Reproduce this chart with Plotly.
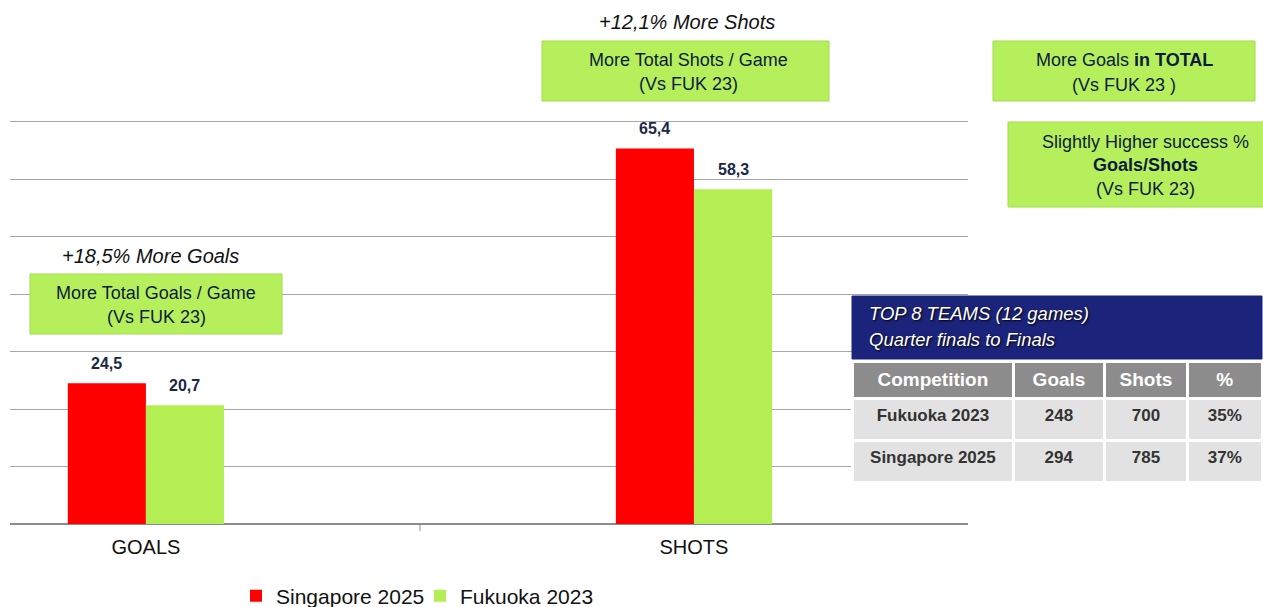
import plotly.graph_objects as go

# ---------------- data ----------------
categories = ["GOALS", "SHOTS"]
series_names = ["Singapore 2025", "Fukuoka 2023"]
singapore_2025 = [24.5, 65.4]
fukuoka_2023 = [20.7, 58.3]
value_labels_sg = ["24,5", "65,4"]
value_labels_fk = ["20,7", "58,3"]
y_gridvals = [0, 10, 20, 30, 40, 50, 60, 70]

table_title = ["TOP 8 TEAMS (12 games)", "Quarter finals to Finals"]
table_columns = ["Competition", "Goals", "Shots", "%"]
table_competition = ["Fukuoka 2023", "Singapore 2025"]
table_goals = [248, 294]
table_shots = [700, 785]
table_pct = ["35%", "37%"]

# ---------------- layout helpers ----------------
W, H = 1263, 607
ML, MB = 10, 83          # margins (px)
PW = W - ML              # paper width px
PH = H - MB              # paper height px


def px(x):
    return (x - ML) / PW


def py(y):
    return (PH - y) / PH


RED = "#FF0000"
GREEN = "#B3EE52"
BOX_FILL = "#B5F05C"
BOX_LINE = "#A2DC4C"
NAVY_TXT = "#0E1B3C"
FONT = "Arial, Liberation Sans, sans-serif"

fig = go.Figure()
xs = list(range(len(categories)))
fig.add_trace(go.Bar(x=xs, y=singapore_2025, name=series_names[0],
                     marker=dict(color=RED, line=dict(width=0))))
fig.add_trace(go.Bar(x=xs, y=fukuoka_2023, name=series_names[1],
                     marker=dict(color=GREEN, line=dict(width=0))))

BARGAP = 0.715
half = (1 - BARGAP) / 4  # center offset of each bar in group

annotations = []
for i in xs:
    annotations.append(dict(x=i - half, y=singapore_2025[i], xref="x", yref="y",
                            text="<b>%s</b>" % value_labels_sg[i], showarrow=False,
                            yanchor="bottom", yshift=9,
                            font=dict(size=16, color="#1C2746", family=FONT)))
    annotations.append(dict(x=i + half, y=fukuoka_2023[i], xref="x", yref="y",
                            text="<b>%s</b>" % value_labels_fk[i], showarrow=False,
                            yanchor="bottom", yshift=9,
                            font=dict(size=16, color="#1C2746", family=FONT)))

shapes = []


def box(x0, y0, x1, y1, fill=BOX_FILL, line=BOX_LINE):
    shapes.append(dict(type="rect", xref="paper", yref="paper",
                       x0=px(x0), x1=px(x1), y0=py(y1), y1=py(y0),
                       fillcolor=fill, line=dict(color=line, width=1), layer="above"))


def text(x, y, s, size=18, color=NAVY_TXT, style="normal", xanchor="center", shadow=None):
    f = dict(size=size, color=color, family=FONT, style=style)
    if shadow:
        f["shadow"] = shadow
    annotations.append(dict(x=px(x), y=py(y), xref="paper", yref="paper", text=s,
                            showarrow=False, xanchor=xanchor, yanchor="middle", font=f))


# green call-out boxes
box(30, 274, 282, 334)
text(156, 293, "More Total Goals / Game")
text(156, 317, "(Vs FUK 23)")
text(150, 256, "+18,5% More Goals", size=20, color="#111111", style="italic")

box(542, 41, 829, 101)
text(688, 60, "More Total Shots / Game")
text(688, 84, "(Vs FUK 23)")
text(687, 22, "+12,1% More Shots", size=20, color="#111111", style="italic")

box(993, 41, 1255, 101)
text(1124, 60, "More Goals <b>in TOTAL</b>")
text(1124, 85, "(Vs FUK 23 )")

box(1008, 122, 1275, 207)
text(1145, 142, "Slightly Higher success %")
text(1145, 165, "<b>Goals/Shots</b>")
text(1145, 189, "(Vs FUK 23)")

# table title block
box(852, 296, 1262, 359, fill="#1B237A", line="#1B237A")
text(867, 313, table_title[0], size=18.5, color="white", style="italic", xanchor="left",
     shadow="1px 1px 2px #000")
text(867, 339, table_title[1], size=18.5, color="white", style="italic", xanchor="left",
     shadow="1px 1px 2px #000")

# small tick between categories on the baseline
shapes.append(dict(type="line", xref="x", yref="paper", x0=0.5, x1=0.5,
                   y0=0, y1=-7 / PH, line=dict(color="#8C8C8C", width=1)))


def bold(col):
    return ["<b>%s</b>" % v for v in col]


fig.add_trace(go.Table(
    domain=dict(x=[px(852), px(1262)], y=[py(484), py(361)]),
    columnwidth=[161, 90, 83, 74],
    header=dict(values=bold(table_columns),
                fill_color="#8C8C8C", line=dict(color="white", width=3),
                align="center", height=33,
                font=dict(color="white", size=19, family=FONT)),
    cells=dict(values=[bold(table_competition), bold(table_goals),
                       bold(table_shots), bold(table_pct)],
               fill_color="#E2E2E2", line=dict(color="white", width=3),
               align="center", height=42,
               font=dict(color="#333333", size=17, family=FONT)),
))

UNIT = 402 / 70          # px per data unit (baseline 524, value 70 at 122)
Y_TOP = 71
fig.update_layout(
    width=W, height=H,
    margin=dict(l=ML, r=0, t=0, b=MB, pad=0, autoexpand=False),
    paper_bgcolor="white", plot_bgcolor="white",
    barmode="group", bargap=BARGAP, bargroupgap=0,
    font=dict(family=FONT, color="#111111"),
    xaxis=dict(domain=[0, (968 - ML) / PW], range=[-0.248, 1.5], automargin=False,
               tickvals=xs, ticktext=categories, tickfont=dict(size=20, color="#111111"),
               ticks="outside", ticklen=5, tickcolor="rgba(0,0,0,0)",
               showgrid=False, zeroline=False, showline=False, fixedrange=True),
    yaxis=dict(domain=[0, py(524 - Y_TOP * UNIT)], range=[0, Y_TOP],
               tickmode="array", tickvals=y_gridvals,
               automargin=False,
               showgrid=True, gridcolor="#A6A6A6", gridwidth=1,
               zeroline=True, zerolinecolor="#8C8C8C", zerolinewidth=2,
               showticklabels=False, showline=False, fixedrange=True),
    legend=dict(orientation="h", x=px(236), xanchor="left",
                yref="container", y=1 - 596 / H, yanchor="middle",
                font=dict(size=21, color="#111111"), bgcolor="rgba(0,0,0,0)",
                entrywidth=139, entrywidthmode="pixels", itemwidth=30),
    shapes=shapes,
    annotations=annotations,
)

fig.write_html("out.html", config={"displayModeBar": False},
               post_script="document.body.style.margin='0';document.body.style.overflow='hidden';")
